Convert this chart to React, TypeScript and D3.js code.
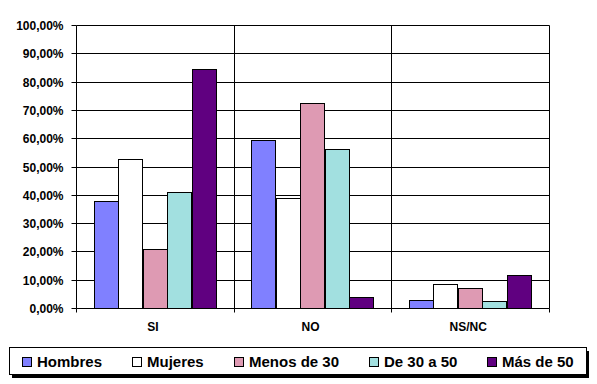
import React, { useEffect, useRef } from 'react';
import * as d3 from 'd3';

// answers on the x axis
const categories = ['SI', 'NO', 'NS/NC'];

// one series per group of respondents (percent)
const seriesNames = ['Hombres', 'Mujeres', 'Menos de 30', 'De 30 a 50', 'Más de 50'];
const hombres = [37.8, 59.3, 2.7];
const mujeres = [52.5, 38.9, 8.4];
const menos30 = [20.7, 72.3, 7.0];
const de30a50 = [41.1, 56.1, 2.4];
const mas50 = [84.3, 3.9, 11.6];
const seriesValues = [hombres, mujeres, menos30, de30a50, mas50];
const seriesColors = ['#8080ff', '#ffffff', '#de9ab3', '#a2e0e0', '#600080'];

const yTicks = [0, 10, 20, 30, 40, 50, 60, 70, 80, 90, 100];

const FONT = "'Liberation Sans', Arial, sans-serif";

function App() {
  const ref = useRef<SVGSVGElement | null>(null);

  useEffect(() => {
    const width = 597, height = 384;
    const margin = { top: 25, right: 48, bottom: 76, left: 76 };
    const svg = d3.select(ref.current);
    svg.selectAll('*').remove();

    const x = d3.scaleBand().domain(categories).range([margin.left, width - margin.right]).padding(0);
    const inner = d3.scaleBand().domain(seriesNames).range([0, x.bandwidth()]).paddingInner(0).paddingOuter(0.72);
    const y = d3.scaleLinear().domain([0, 100]).range([height - margin.bottom, margin.top]);
    const py = (v: number) => Math.round(y(v)) + 0.5;
    const px = (v: number) => Math.round(v) + 0.5;

    const g = svg.append('g');

    // horizontal gridlines
    g.selectAll('line.hgrid')
      .data(yTicks.slice(1))
      .join('line')
      .attr('x1', px(margin.left)).attr('x2', px(width - margin.right))
      .attr('y1', d => py(d)).attr('y2', d => py(d))
      .attr('stroke', '#000').attr('stroke-width', 1);

    // vertical gridlines between categories and at the right end
    const bounds = categories.map(c => x(c)! + x.bandwidth());
    g.selectAll('line.vgrid')
      .data(bounds)
      .join('line')
      .attr('x1', d => px(d)).attr('x2', d => px(d))
      .attr('y1', py(100)).attr('y2', py(0))
      .attr('stroke', '#000').attr('stroke-width', 1);

    // bars
    seriesValues.forEach((vals, si) => {
      g.selectAll(`rect.s${si}`)
        .data(vals)
        .join('rect')
        .attr('x', (d, i) => px(x(categories[i])! + inner(seriesNames[si])!))
        .attr('y', d => py(d))
        .attr('width', Math.round(inner.bandwidth()))
        .attr('height', d => py(0) - py(d))
        .attr('fill', seriesColors[si])
        .attr('stroke', '#000').attr('stroke-width', 1);
    });

    // y axis
    const yAxis = d3.axisLeft(y).tickValues(yTicks).tickSize(5).tickPadding(8)
      .tickFormat(d => `${(d as number).toFixed(2).replace('.', ',')}%`);
    const ya = svg.append('g').attr('transform', `translate(${px(margin.left)},0.5)`).call(yAxis);
    ya.select('.domain').attr('stroke', '#000').attr('d', `M0,${Math.round(y(100))}V${Math.round(y(0))}`);
    ya.selectAll('.tick line').attr('stroke', '#000');
    ya.selectAll('.tick').attr('transform', d => `translate(0,${Math.round(y(d as number))})`);
    ya.selectAll('text')
      .attr('font-family', FONT).attr('font-size', 12).attr('font-weight', 'bold')
      .attr('fill', '#000').attr('dy', '0.34em');

    // x axis
    svg.append('line')
      .attr('x1', px(margin.left)).attr('x2', px(width - margin.right))
      .attr('y1', py(0)).attr('y2', py(0)).attr('stroke', '#000');
    svg.selectAll('line.xtick')
      .data([margin.left, ...bounds])
      .join('line')
      .attr('x1', d => px(d)).attr('x2', d => px(d))
      .attr('y1', py(0)).attr('y2', py(0) + 4)
      .attr('stroke', '#000');
    svg.selectAll('text.cat')
      .data(categories)
      .join('text')
      .attr('x', d => x(d)! + x.bandwidth() / 2 - 2)
      .attr('y', py(0) + 22)
      .attr('text-anchor', 'middle')
      .attr('font-family', FONT).attr('font-size', 12).attr('font-weight', 'bold')
      .text(d => d);

    // legend box with shadow
    const lg = svg.append('g');
    lg.append('rect').attr('x', 12).attr('y', 351).attr('width', 577).attr('height', 27).attr('fill', '#000');
    lg.append('rect').attr('x', 9.5).attr('y', 347.5).attr('width', 577).attr('height', 27)
      .attr('fill', '#fff').attr('stroke', '#000');

    const items = lg.selectAll('g.item')
      .data(seriesNames)
      .join('g');
    items.append('rect')
      .attr('x', 0.5).attr('y', 357.5).attr('width', 9).attr('height', 9)
      .attr('fill', (d, i) => seriesColors[i]).attr('stroke', '#000');
    items.append('text')
      .attr('x', 15).attr('y', 367)
      .attr('font-family', FONT).attr('font-size', 15).attr('font-weight', 'bold')
      .text(d => d);

    // spread the legend items evenly between the box edges
    const widths = items.nodes().map(n => 15 + (n.querySelector('text') as SVGTextElement).getComputedTextLength());
    const start = 22, end = 574;
    const gap = (end - start - d3.sum(widths)) / (widths.length - 1);
    let cur = start;
    items.each(function (d, i) {
      d3.select(this).attr('transform', `translate(${Math.round(cur)},0)`);
      cur += widths[i] + gap;
    });
  }, []);

  return (
    <svg ref={ref} width={597} height={384}
      style={{ position: 'absolute', left: 0, top: 0, background: '#fff' }} />
  );
}

export default App;
